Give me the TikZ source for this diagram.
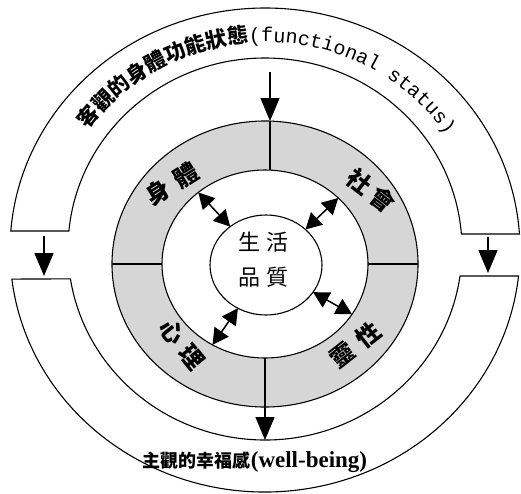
\documentclass[tikz,border=0pt]{standalone}
\usepackage{fontspec}
\newfontfamily\cjk{Noto Sans CJK TC}
\newfontfamily\monof{Liberation Mono}
\newfontfamily\serb{Liberation Serif}
\usetikzlibrary{shapes.geometric,arrows.meta,decorations.text,calc}
\tikzset{
  ln/.style={line width=1.1pt},
  ell/.style={ellipse, inner sep=0pt, outer sep=0pt, draw, line width=1.1pt},
  downarrow/.style={line width=1.5pt, -{Triangle[length=23pt,width=19pt]}},
  twoway/.style={line width=1.5pt, {Triangle[length=16pt,width=17pt]}-{Triangle[length=16pt,width=17pt]}},
  lab/.style={font=\cjk\bfseries\fontsize{24}{24}\selectfont, inner sep=0pt}
}
\begin{document}
\begin{tikzpicture}[x=1pt,y=1pt]
\useasboundingbox (0,0) rectangle (521,-493);
\fill[white] (0,0) rectangle (521,-493);
% outer band, upper part
\draw[ln] (265,-250) ++(3.79:255 and 242)
  arc[start angle=3.79,end angle=175.5,x radius=255,y radius=242]
  -- ($(265,-249)+(174.6:197 and 191)$)
  arc[start angle=174.6,end angle=4.5,x radius=197,y radius=191] -- cycle;
% outer band, lower part
\draw[ln] (265,-250) ++(186.9:255 and 242)
  arc[start angle=186.9,end angle=353.83,x radius=255,y radius=242]
  -- ($(265,-249)+(351.87:197 and 191)$)
  arc[start angle=351.87,end angle=189.0,x radius=197,y radius=191] -- cycle;
% gray band and inner ellipses
\node[ell, fill=gray!32, minimum width=306pt, minimum height=286pt] (band) at (265,-264) {};
\node[ell, fill=white, minimum width=206pt, minimum height=188pt] (hole) at (265,-264) {};
\node[ell, fill=white, minimum width=112pt, minimum height=100pt] (core) at (266,-265) {};
% dividers
\draw[ln] ($(band.north)+(5,0)$) -- ($(hole.north)+(5,0)$);
\draw[ln] (band.south) -- (hole.south);
\draw[ln] (band.west) -- (hole.west);
\draw[ln] (band.east) -- (hole.east);
% arrows
\coordinate (ta) at (270,-72);
\draw[downarrow] (ta) -- ($(band.north)+(5,0)$);
\coordinate (bb) at (265,-440);
\draw[downarrow] (band.south) -- (bb);
\coordinate (la) at (44,-236);
\coordinate (lb) at (44,-276);
\draw[downarrow] (la) -- (lb);
\coordinate (ra) at (488,-237);
\coordinate (rb) at (488,-273);
\draw[downarrow] (ra) -- (rb);
% double arrows
\draw[twoway] (hole.133) -- (core.133);
\draw[twoway] (hole.42) -- (core.42);
\draw[twoway] (hole.-30) -- (core.-30);
\draw[twoway] (hole.237) -- (core.237);
% center text
\node[align=center, inner sep=0pt, font=\cjk\fontsize{22}{35}\selectfont] (q) at (263.5,-260) {生\hspace{6pt}活\\品\hspace{6pt}質};
% band labels
\node[lab, rotate=32] (l1) at (172,-184) {身\hspace{9pt}體};
\node[lab, rotate=-38] (l2) at (371.5,-191) {社\hspace{5pt}會};
\node[lab, rotate=-51] (l3) at (182,-344.5) {心\hspace{8pt}理};
\node[lab, rotate=38] (l4) at (355,-345) {靈\hspace{9pt}性};
% top curved text
\path[decorate, decoration={text along path, text align=center,
  text={|\cjk\bfseries\fontsize{21}{21}\selectfont|客觀的身體功能狀態|\monof\fontsize{20}{20}\selectfont|(functional status)}}]
  (265,-250) ++(154:217 and 208) arc[start angle=154, end angle=24, x radius=217, y radius=208];
% bottom text
\node[inner sep=0pt] (wb) at (255,-462) {\cjk\bfseries\fontsize{18}{18}\selectfont 主觀的幸福感\serb\bfseries\fontsize{23}{23}\selectfont(well-being)};
\end{tikzpicture}
\end{document}
